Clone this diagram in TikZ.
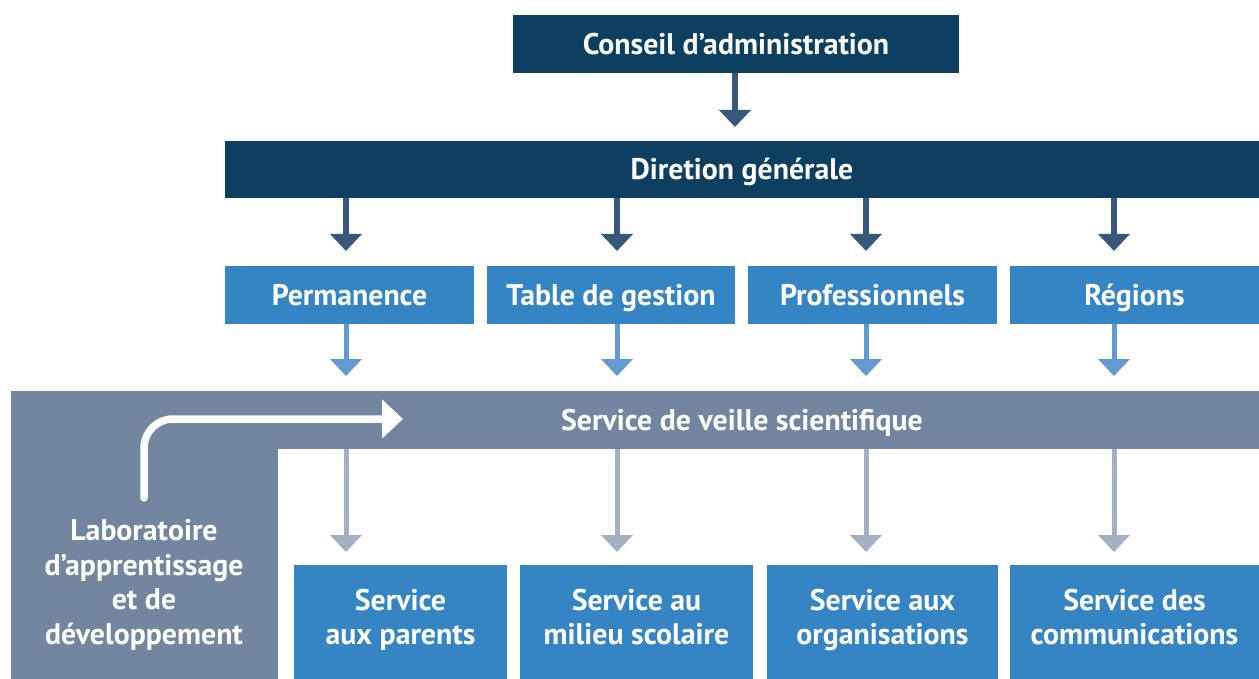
\documentclass[tikz,border=0pt]{standalone}
\usepackage{fontspec}
\setmainfont{PT Sans}
\usetikzlibrary{arrows.meta,calc}
\definecolor{navy}{HTML}{0D3F61}
\definecolor{darkarrow}{HTML}{37587A}
\definecolor{boxblue}{HTML}{3585C5}
\definecolor{lightarrow}{HTML}{6499D1}
\definecolor{bandgray}{HTML}{72869F}
\definecolor{grayarrow}{HTML}{A3AFC2}
\tikzset{
  box/.style={inner sep=0pt, outer sep=0pt, text=white, align=center, text depth=0pt,
    font=\bfseries\fontsize{29.8}{34.5}\selectfont},
  oneline/.style={box, text height=20.8pt},
  darr/.style={draw=darkarrow, line width=6pt, -{Triangle[width=31pt,length=17pt]}},
  larr/.style={draw=lightarrow, line width=5pt, -{Triangle[width=31pt,length=17pt]}},
  garr/.style={draw=grayarrow, line width=5pt, -{Triangle[width=31pt,length=17pt]}},
}
\begin{document}
\begin{tikzpicture}[x=1pt,y=-1pt]
\useasboundingbox (0,0) rectangle (1259,679);
% L-shaped gray background
\fill[bandgray] (11,391) rectangle (278,679);
\fill[bandgray] (11,391) rectangle (226,449);
% columns
\coordinate (c1) at (346,0);
\coordinate (c2) at (617,0);
\coordinate (c3) at (866,0);
\coordinate (c4) at (1114,0);
% nodes
\node[oneline, fill=navy, minimum width=446pt, minimum height=58pt] (ca) at (736,44) {Conseil d’administration};
\node[oneline, fill=navy, minimum width=1034pt, minimum height=57pt] (dg) at (742,169.5) {Diretion générale};
\node[oneline, fill=boxblue, minimum width=249pt, minimum height=58pt] (perm) at (349.5,295) {Permanence};
\node[oneline, fill=boxblue, minimum width=248pt, minimum height=58pt] (tdg) at (611,295) {Table de gestion};
\node[oneline, fill=boxblue, minimum width=249pt, minimum height=58pt] (pro) at (872.5,295) {Professionnels};
\node[oneline, fill=boxblue, minimum width=249pt, minimum height=58pt] (reg) at (1134.5,295) {Régions};
\node[oneline, fill=bandgray, minimum width=1034pt, minimum height=58pt] (svs) at (742,420) {Service de veille scientifique};
\node[box, fill=boxblue, minimum width=213pt, minimum height=114pt] (par) at (400.5,622) {};
\node[box] at (400.5,617) {Service\\aux parents};
\node[box, fill=boxblue, minimum width=233pt, minimum height=114pt] (mil) at (636.5,622) {};
\node[box] at (636.5,617) {Service au\\milieu scolaire};
\node[box, fill=boxblue, minimum width=231pt, minimum height=114pt] (org) at (882.5,622) {};
\node[box] at (882.5,617) {Service aux\\organisations};
\node[box, fill=boxblue, minimum width=249pt, minimum height=114pt] (com) at (1134.5,622) {};
\node[box] at (1134.5,617) {Service des\\communications};
\node[box] (labo) at (144,582) {Laboratoire\\d’apprentissage\\et de\\développement};
% arrows
\draw[darr, shorten >=14pt] (ca.south -| 735,0) -- (dg.north -| 735,0);
\foreach \c/\a/\b in {c1/perm/par, c2/tdg/mil, c3/pro/org, c4/reg/com}{
  \draw[darr, shorten >=15pt] (dg.south -| \c) -- (\a.north -| \c);
  \draw[larr, shorten >=15pt] (\a.south -| \c) -- (svs.north -| \c);
  \draw[garr, shorten >=13pt] (svs.south -| \c) -- (\b.north -| \c);
}
% white arrow
\coordinate (ls) at (144,498);
\coordinate (le) at (403,419);
\draw[white, line width=7.5pt, line cap=round, rounded corners=29pt, -{Triangle[width=38pt,length=21pt]}] (ls) |- (le);
\end{tikzpicture}
\end{document}
